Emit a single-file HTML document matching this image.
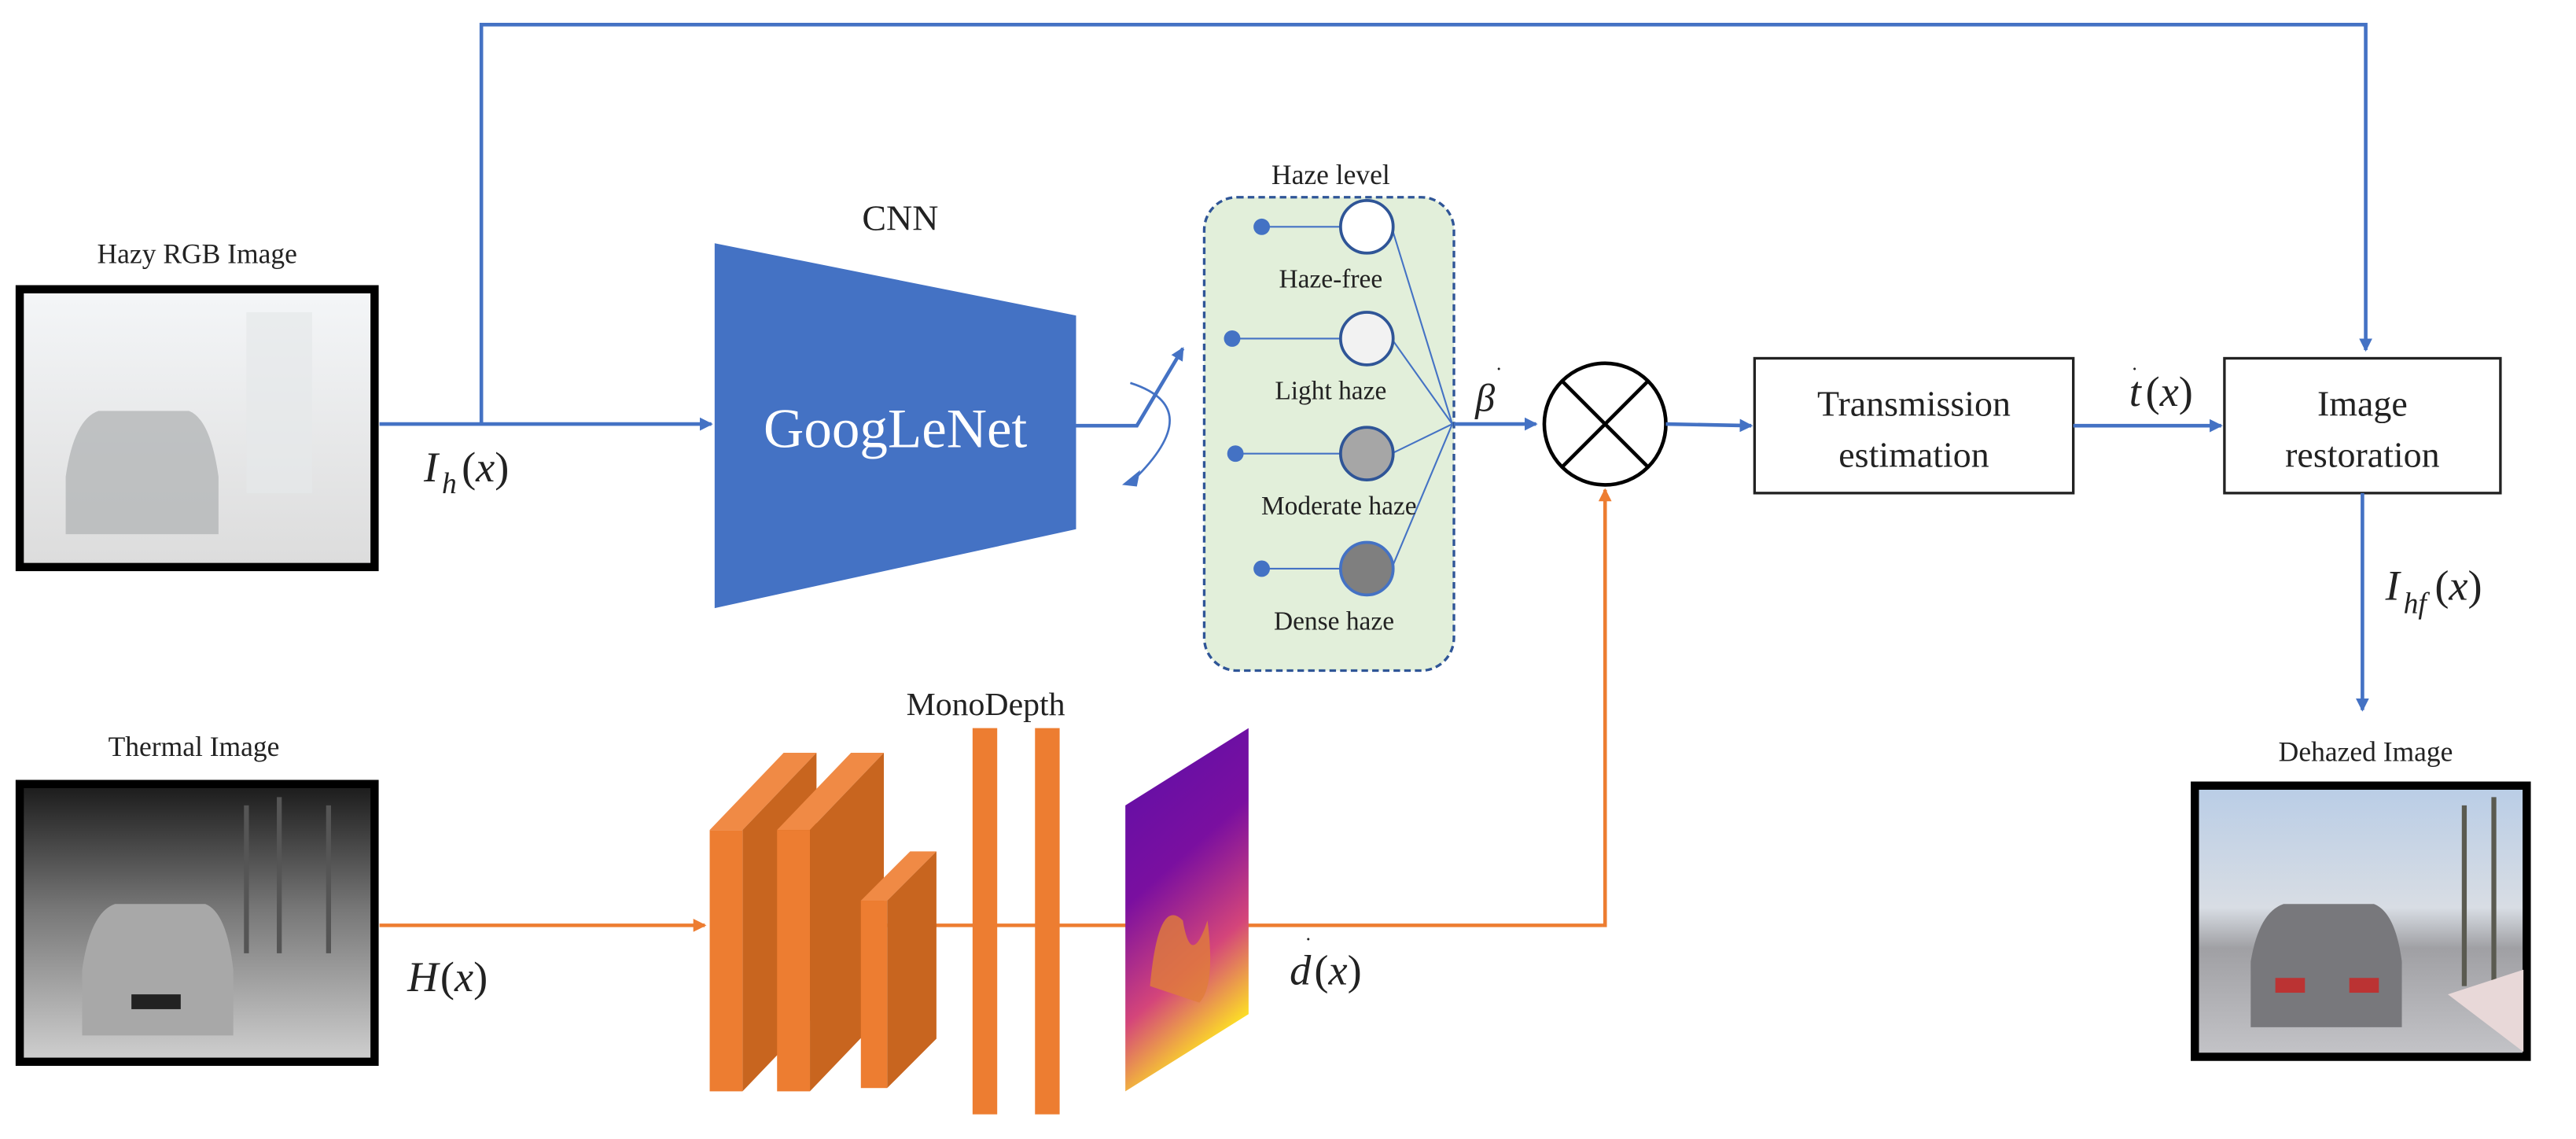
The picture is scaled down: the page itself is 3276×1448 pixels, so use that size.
<!DOCTYPE html>
<html><head><meta charset="utf-8"><style>
html,body{margin:0;padding:0;background:#fff;}
svg{display:block;}
svg text{font-family:"Liberation Serif","DejaVu Serif",serif !important;fill:#222;}
.it{font-style:italic;}
</style></head><body>
<svg width="3276" height="1448" viewBox="0 0 1568 693" preserveAspectRatio="none" xmlns="http://www.w3.org/2000/svg" font-family="Liberation Serif, serif">
<defs>
<marker id="ab" markerWidth="8" markerHeight="8" refX="7" refY="4" orient="auto" markerUnits="userSpaceOnUse"><path d="M0,0 L8,4 L0,8 z" fill="#4472C4"/></marker>
<marker id="ao" markerWidth="8" markerHeight="8" refX="7" refY="4" orient="auto" markerUnits="userSpaceOnUse"><path d="M0,0 L8,4 L0,8 z" fill="#ED7D31"/></marker>
<linearGradient id="hz" x1="0" y1="0" x2="0" y2="1"><stop offset="0" stop-color="#f4f6f8"/><stop offset="1" stop-color="#dcdcdc"/></linearGradient>
<linearGradient id="th" x1="0" y1="0" x2="0" y2="1"><stop offset="0" stop-color="#1a1a1a"/><stop offset="0.45" stop-color="#777"/><stop offset="1" stop-color="#d0d0d0"/></linearGradient>
<linearGradient id="dh" x1="0" y1="0" x2="0" y2="1"><stop offset="0" stop-color="#b9cde6"/><stop offset="0.45" stop-color="#d8dde4"/><stop offset="0.6" stop-color="#a0a0a4"/><stop offset="1" stop-color="#c4c4c8"/></linearGradient>
<linearGradient id="dp" x1="0" y1="0" x2="0.3" y2="1"><stop offset="0" stop-color="#5b0fa8"/><stop offset="0.45" stop-color="#7a0fa0"/><stop offset="0.75" stop-color="#d4457a"/><stop offset="1" stop-color="#fde025"/></linearGradient>
</defs>

<polyline points="293,258 293,15 1440,15 1440,213" fill="none" stroke="#4472C4" stroke-width="2.2" marker-end="url(#ab)"/>

<text x="120" y="160" font-size="17" text-anchor="middle">Hazy RGB Image</text>
<rect x="12" y="176" width="216" height="169" fill="url(#hz)" stroke="#000" stroke-width="5"/>
<path d="M40,290 Q45,255 60,250 L115,250 Q128,255 133,290 L133,325 L40,325 z" fill="#b4b6b8" opacity="0.8"/>
<rect x="150" y="190" width="40" height="110" fill="#e6e8ea" opacity="0.7"/>

<text x="258" y="293" font-size="26" class="it">I</text><text x="269" y="300" font-size="18" class="it">h</text><text x="281" y="293" font-size="26">(<tspan class="it">x</tspan>)</text>
<line x1="231" y1="258" x2="433" y2="258" stroke="#4472C4" stroke-width="2.2" marker-end="url(#ab)"/>

<text x="548" y="140" font-size="22" text-anchor="middle">CNN</text>
<polygon points="435,148 655,192 655,322 435,370" fill="#4472C4"/>
<text x="545" y="272" font-size="34" text-anchor="middle" style="fill:#fff">GoogLeNet</text>
<polyline points="655,259 692,259 720,212" fill="none" stroke="#4472C4" stroke-width="2.2" marker-end="url(#ab)"/>
<path d="M688,233 Q735,248 690,292" fill="none" stroke="#4472C4" stroke-width="1.3"/>
<path d="M683,295 L694,286 L692,296 z" fill="#4472C4"/>

<text x="810" y="112" font-size="17" text-anchor="middle">Haze level</text>
<rect x="733" y="120" width="152" height="288" rx="20" fill="#E2EFDA" stroke="#2F5597" stroke-width="1.6" stroke-dasharray="4,2.5"/>
<g stroke="#4472C4" stroke-width="1">
<line x1="768" y1="138" x2="816" y2="138"/><line x1="750" y1="206" x2="816" y2="206"/><line x1="752" y1="276" x2="816" y2="276"/><line x1="768" y1="346" x2="816" y2="346"/>
<line x1="847" y1="138" x2="884" y2="258"/><line x1="847" y1="206" x2="884" y2="258"/><line x1="847" y1="276" x2="884" y2="258"/><line x1="847" y1="346" x2="884" y2="258"/>
</g>
<g fill="#4472C4"><circle cx="768" cy="138" r="5"/><circle cx="750" cy="206" r="5"/><circle cx="752" cy="276" r="5"/><circle cx="768" cy="346" r="5"/></g>
<g stroke="#2F5597" stroke-width="1.8">
<circle cx="832" cy="138" r="16" fill="#fff"/><circle cx="832" cy="206" r="16" fill="#f2f2f2"/><circle cx="832" cy="276" r="16" fill="#a6a6a6"/><circle cx="832" cy="346" r="16" fill="#7f7f7f" stroke="#4472C4"/>
</g>
<g font-size="16" text-anchor="middle">
<text x="810" y="175">Haze-free</text><text x="810" y="243">Light haze</text><text x="815" y="313">Moderate haze</text><text x="812" y="383">Dense haze</text>
</g>

<text x="898" y="250" font-size="24" class="it">β</text><text x="910" y="233" font-size="14">˙</text>
<line x1="885" y1="258" x2="935" y2="258" stroke="#4472C4" stroke-width="2.2" marker-end="url(#ab)"/>

<circle cx="977" cy="258" r="37" fill="#fff" stroke="#000" stroke-width="2.2"/>
<line x1="951" y1="232" x2="1003" y2="284" stroke="#000" stroke-width="2.2"/><line x1="1003" y1="232" x2="951" y2="284" stroke="#000" stroke-width="2.2"/>
<line x1="1014" y1="258" x2="1066" y2="259" stroke="#4472C4" stroke-width="2.2" marker-end="url(#ab)"/>

<rect x="1068" y="218" width="194" height="82" fill="#fff" stroke="#222" stroke-width="1.6"/>
<text x="1165" y="253" font-size="22" text-anchor="middle">Transmission</text>
<text x="1165" y="284" font-size="22" text-anchor="middle">estimation</text>

<text x="1296" y="247" font-size="26" class="it">t</text><text x="1297" y="233" font-size="14">˙</text><text x="1306" y="247" font-size="26">(<tspan class="it">x</tspan>)</text>
<line x1="1262" y1="259" x2="1352" y2="259" stroke="#4472C4" stroke-width="2.2" marker-end="url(#ab)"/>

<rect x="1354" y="218" width="168" height="82" fill="#fff" stroke="#222" stroke-width="1.6"/>
<text x="1438" y="253" font-size="22" text-anchor="middle">Image</text>
<text x="1438" y="284" font-size="22" text-anchor="middle">restoration</text>

<line x1="1438" y1="300" x2="1438" y2="432" stroke="#4472C4" stroke-width="2.2" marker-end="url(#ab)"/>
<text x="1452" y="365" font-size="26" class="it">I</text><text x="1463" y="373" font-size="18" class="it">hf</text><text x="1482" y="365" font-size="26">(<tspan class="it">x</tspan>)</text>

<text x="1440" y="463" font-size="17" text-anchor="middle">Dehazed Image</text>
<rect x="1336" y="478" width="202" height="165" fill="url(#dh)" stroke="#000" stroke-width="5"/>
<path d="M1370,585 Q1375,555 1390,550 L1445,550 Q1458,555 1462,585 L1462,625 L1370,625 z" fill="#78787c"/>
<rect x="1385" y="595" width="18" height="9" fill="#b33"/><rect x="1430" y="595" width="18" height="9" fill="#b33"/>
<g stroke="#5a5a50" stroke-width="3"><line x1="1500" y1="490" x2="1500" y2="600"/><line x1="1518" y1="485" x2="1518" y2="600"/></g>
<path d="M1490,605 L1536,590 L1536,640 z" fill="#e8d8d8"/>

<text x="118" y="460" font-size="17" text-anchor="middle">Thermal Image</text>
<rect x="12" y="477" width="216" height="169" fill="url(#th)" stroke="#000" stroke-width="5"/>
<path d="M50,590 Q55,555 70,550 L125,550 Q138,555 142,590 L142,630 L50,630 z" fill="#a8a8a8"/>
<rect x="80" y="605" width="30" height="9" fill="#222"/>
<g stroke="#555" stroke-width="3"><line x1="150" y1="490" x2="150" y2="580"/><line x1="170" y1="485" x2="170" y2="580"/><line x1="200" y1="490" x2="200" y2="580"/></g>

<line x1="231" y1="563" x2="429" y2="563" stroke="#ED7D31" stroke-width="2.2" marker-end="url(#ao)"/>
<text x="248" y="603" font-size="26" class="it">H</text><text x="268" y="603" font-size="26">(<tspan class="it">x</tspan>)</text>

<text x="600" y="435" font-size="20" text-anchor="middle">MonoDepth</text>
<line x1="540" y1="563" x2="975" y2="563" stroke="#ED7D31" stroke-width="2.2"/>
<polyline points="975,563 977,563 977,298" fill="none" stroke="#ED7D31" stroke-width="2.2" marker-end="url(#ao)"/>
<g>
<polygon points="432,505 452,505 497,458 477,458" fill="#F08A45"/>
<polygon points="452,505 497,458 497,617 452,664" fill="#C8651F"/>
<rect x="432" y="505" width="20" height="159" fill="#ED7D31"/>
<polygon points="473,505 493,505 538,458 518,458" fill="#F08A45"/>
<polygon points="493,505 538,458 538,617 493,664" fill="#C8651F"/>
<rect x="473" y="505" width="20" height="159" fill="#ED7D31"/>
<polygon points="524,548 540,548 570,518 554,518" fill="#F08A45"/>
<polygon points="540,548 570,518 570,632 540,662" fill="#C8651F"/>
<rect x="524" y="548" width="16" height="114" fill="#ED7D31"/>
</g>
<rect x="592" y="443" width="15" height="235" fill="#ED7D31"/>
<rect x="630" y="443" width="15" height="235" fill="#ED7D31"/>
<polygon points="685,490 760,443 760,617 685,664" fill="url(#dp)"/>
<path d="M700,600 Q705,545 720,560 Q725,590 735,560 Q740,600 730,610 Z" fill="#e07d3a" opacity="0.8"/>

<text x="785" y="599" font-size="26" class="it">d</text><text x="794" y="580" font-size="14">˙</text><text x="800" y="599" font-size="26">(<tspan class="it">x</tspan>)</text>
</svg>
</body></html>
